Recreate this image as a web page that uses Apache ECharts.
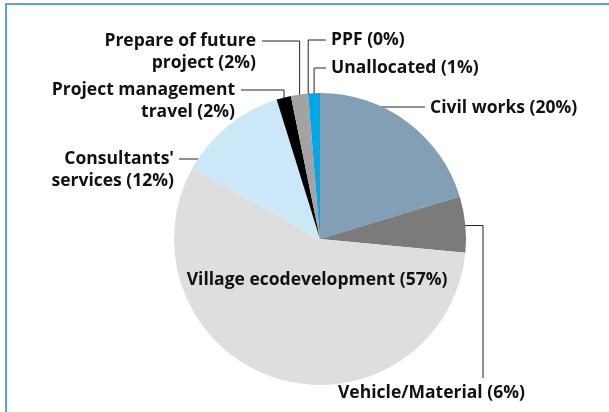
<!DOCTYPE html>
<html>
<head>
<meta charset="utf-8">
<script src="https://cdn.jsdelivr.net/npm/echarts@6/dist/echarts.min.js"></script>
<style>
  html, body { margin: 0; padding: 0; background: #fff; }
  #frame {
    position: absolute; left: 5px; top: 3px; width: 640px; height: 440px;
    border-left: 2px solid #5aa8cf; border-top: 2px solid #5aa8cf;
  }
  #chart { width: 609px; height: 412px; position: absolute; left: 0; top: 0; }
</style>
</head>
<body>
<div id="frame"></div>
<div id="chart"></div>
<script>
const categories = ['Civil works', 'Vehicle/Material', 'Village ecodevelopment', "Consultants'\nservices", 'Project management\ntravel', 'Prepare of future\nproject', 'PPF', 'Unallocated']
const shares = [20.3, 6.2, 56.6, 12.1, 1.6, 1.9, 0, 1.3]
const shareLabels = ['20%', '6%', '57%', '12%', '2%', '2%', '0%', '1%']
const colors = ['#829fb6', '#7b7b7b', '#dedede', '#cce8f8', '#000000', '#a3a3a3', '#a3a3a3', '#00a7e9']

// label placement: text anchor, alignment, leader line kind
const labelPlaces = [
  { x: 430, y: 108, align: 'left', line: 'h', lineY: 107, f: 0.98, end: 425 },
  { x: 338, y: 393, align: 'left', line: 'hv', f: 0.92, elbowX: 483, endY: 378 },
  { x: 317, y: 280, align: 'center', line: 'none' },
  { x: 174, y: 170, align: 'right', line: 'h', lineY: 159, f: 0.9, end: 179 },
  { x: 235, y: 101, align: 'right', line: 'v', lineY: 90, f: 0.99, end: 241 },
  { x: 256, y: 52, align: 'right', line: 'v', lineY: 41, f: 0.99, end: 262 },
  { x: 331, y: 40, align: 'left', line: 'v', lineY: 40, f: 0.99, end: 326 },
  { x: 331, y: 68, align: 'left', line: 'v', lineY: 68, f: 0.99, end: 326 },
]

const cx = 320, cy = 239, R = 146
const total = shares.reduce((a, b) => a + b, 0)
const midAngles = []
let acc = 0
shares.forEach(v => {
  midAngles.push(((acc + v / 2) / total) * 2 * Math.PI)
  acc += v
})

function linePoints(i) {
  const p = labelPlaces[i]
  const a = midAngles[i]
  if (p.line === 'h') {
    const dy = p.lineY - cy
    const dx = Math.sqrt(Math.max(0, (p.f * R) ** 2 - dy * dy)) * (p.align === 'left' ? 1 : -1)
    return [[cx + dx, p.lineY], [p.end, p.lineY]]
  }
  const ax = cx + p.f * R * Math.sin(a)
  const ay = cy - p.f * R * Math.cos(a)
  if (p.line === 'hv') {
    return [[ax, ay], [p.elbowX, ay], [p.elbowX, p.endY]]
  }
  return [[ax, ay], [ax, p.lineY], [p.end, p.lineY]]
}

const chart = echarts.init(document.getElementById('chart'))
chart.setOption({
  animation: false,
  series: [{
    type: 'pie',
    center: [cx, cy],
    radius: R,
    startAngle: 90,
    clockwise: true,
    avoidLabelOverlap: false,
    data: categories.map((name, i) => ({
      name,
      value: shares[i],
      itemStyle: { color: colors[i] },
      labelLine: { show: labelPlaces[i].line !== 'none' },
    })),
    label: {
      show: true,
      position: 'outside',
      formatter: p => p.name + ' (' + shareLabels[p.dataIndex] + ')',
      fontFamily: 'Open Sans',
      fontWeight: 700,
      fontSize: 17.5,
      lineHeight: 22,
      color: '#111',
    },
    labelLine: { show: true, lineStyle: { color: '#222', width: 1 } },
    labelLayout: params => {
      const i = params.dataIndex
      const p = labelPlaces[i]
      const out = { x: p.x, y: p.y, align: p.align, verticalAlign: 'middle' }
      if (p.line !== 'none') out.labelLinePoints = linePoints(i)
      return out
    },
    emphasis: { disabled: true },
  }],
})
</script>
</body>
</html>
